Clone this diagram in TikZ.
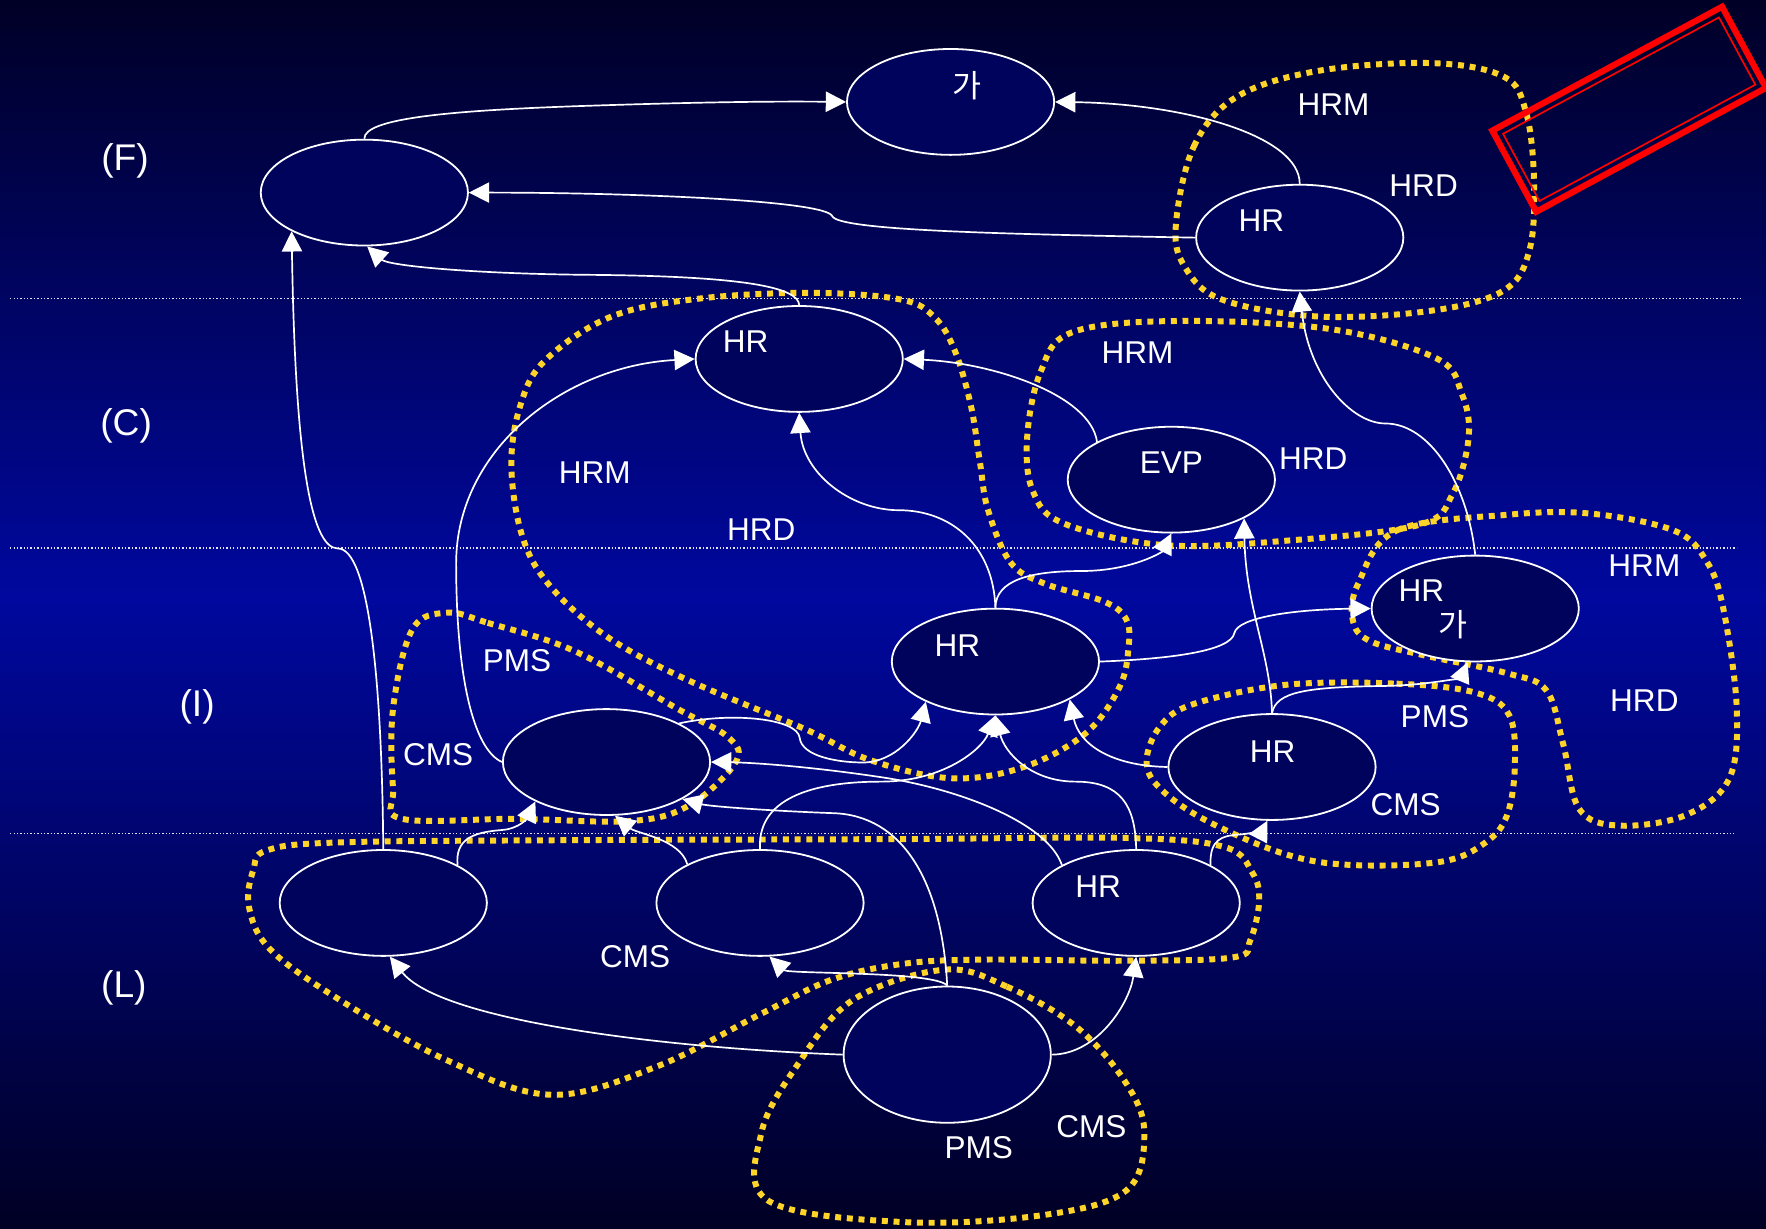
\documentclass[tikz,border=0pt]{standalone}
\usepackage{fontspec}
\setmainfont{Liberation Sans}
\newfontfamily\krfont{Noto Sans CJK KR}
\usetikzlibrary{shapes.geometric,arrows.meta}
\definecolor{bgtop}{RGB}{0,0,38}
\definecolor{bgmid}{RGB}{0,8,158}
\definecolor{bgbot}{RGB}{0,0,36}
\definecolor{nodefill}{RGB}{0,3,92}
\definecolor{gold}{RGB}{255,212,40}
\definecolor{sepcol}{RGB}{225,225,240}
\begin{document}
\begin{tikzpicture}[x=1pt,y=-1pt,
  bubble/.style={ellipse,draw=white,line width=1.6pt,fill=nodefill,minimum width=184pt,minimum height=94pt,inner sep=0pt},
  txt/.style={text=white,font=\fontsize{28}{32}\selectfont,inner sep=0pt},
  layertxt/.style={text=white,font=\fontsize{33}{36}\selectfont,inner sep=0pt},
  krtxt/.style={text=white,font=\krfont\fontsize{28}{32}\selectfont,inner sep=0pt},
  conn/.style={draw=white,line width=1.5pt,-{Triangle[length=18pt,width=18pt]}},
  zone/.style={draw=gold,line width=5.3pt,dash pattern=on 5.3pt off 5.1pt},
  sepline/.style={draw=sepcol,line width=1.2pt,dash pattern=on 1.2pt off 1.8pt},
  redframe/.style={draw=red,line join=miter}
]
\useasboundingbox (0,0) rectangle (1568,1091);
\shade[top color=bgtop,bottom color=bgmid] (0,0) rectangle (1568,530);
\shade[top color=bgmid,bottom color=bgbot] (0,529.5) rectangle (1568,1091);

% separators
\draw[sepline] (9,265) -- (1546,265);
\draw[sepline] (9,486.5) -- (1542,486.5);
\draw[sepline] (9,740) -- (1540,740);

% yellow zones
\draw[zone] plot[smooth cycle,tension=0.6] coordinates {(1044,200) (1060,130) (1098,86) (1170,63) (1270,56) (1335,68) (1355,100) (1362,160) (1358,222) (1335,258) (1270,276) (1170,281) (1085,266) (1052,237)};
\draw[zone] plot[smooth cycle,tension=0.6] coordinates {(912,388) (924,330) (952,295) (1044,285) (1180,292) (1275,318) (1298,350) (1304,388) (1290,438) (1260,466) (1143,480) (1034,484) (945,465) (917,436)};
\draw[zone] plot[smooth cycle,tension=0.6] coordinates {(877,452) (897,499) (927,518) (980,534) (1000,550) (1002,575) (994,610) (964,651) (909,681) (845,691) (773,675) (714,647) (611,604) (540,566) (489,521) (464,477) (454,414) (462,360) (484,320) (543,281) (622,265) (721,260) (800,266) (830,282) (848,312) (862,360) (870,410)};
\draw[zone] plot[smooth cycle,tension=0.6] coordinates {(1206,518) (1240,471) (1339,457) (1412,456) (1486,471) (1515,498) (1530,540) (1542,629) (1535,692) (1496,724) (1437,733) (1402,718) (1388,661) (1373,613) (1339,598) (1265,582) (1216,569) (1201,550)};
\draw[zone] plot[smooth cycle,tension=0.6] coordinates {(1142,608) (1240,607) (1310,615) (1340,635) (1345,680) (1338,724) (1319,748) (1280,765) (1200,768) (1140,758) (1070,728) (1030,700) (1018,676) (1030,645) (1060,625)};
\draw[zone] plot[smooth cycle,tension=0.6] coordinates {(397,544) (433,553) (510,578) (601,629) (647,655) (653,677) (612,715) (560,729) (459,727) (357,727) (349,700) (349,629) (366,559)};
\draw[zone] plot[smooth cycle,tension=0.6] coordinates {(237,755) (300,748) (500,746) (800,745) (1000,744) (1087,752) (1112,775) (1118,800) (1110,835) (1095,850) (1000,853) (870,852) (800,856) (738,870) (676,900) (583,947) (489,972) (396,941) (302,888) (240,843) (221,805) (225,772)};
\draw[zone] plot[smooth cycle,tension=0.6] coordinates {(838,861) (894,876) (956,912) (1000,962) (1016,1006) (1000,1057) (925,1079) (801,1085) (682,1066) (676,1006) (707,947) (757,888)};

% nodes
\node[bubble] (nA)   at (323.5,171) {};
\node[bubble] (nGa)  at (844,90.5) {};
\node[bubble] (nHRF) at (1154,211) {};
\node[bubble] (nHRC) at (709.6,318.7) {};
\node[bubble] (nEVP) at (1040,425.9) {};
\node[bubble] (nHRI) at (883.8,587.4) {};
\node[bubble] (nHRG) at (1309.8,540.3) {};
\node[bubble] (nLI)  at (538.5,676.6) {};
\node[bubble] (nHRLR) at (1129.4,681) {};
\node[bubble] (nL1)  at (340.3,801.7) {};
\node[bubble] (nL2)  at (674.8,801.7) {};
\node[bubble] (nL3)  at (1008.8,801.7) {};
\node[bubble,minimum height=121pt] (nL4) at (841,936.4) {};

% connectors
\draw[conn] (nA.north) .. controls (323,105) and (400,98) .. (520,94) .. controls (640,90) and (700,90) .. (nGa.west);
\draw[conn] (nHRF.north) .. controls (1154,120) and (1050,92) .. (nGa.east);
\draw[conn] (nHRF.west) .. controls (900,208) and (745,205) .. (739,192) .. controls (734,178) and (560,171) .. (nA.east);
\draw[conn] (nHRC.north) .. controls (709,255) and (660,245) .. (520,244) .. controls (420,243) and (345,236) .. (nA.-87);
\draw[conn] (nL1.north) .. controls (339,600) and (327,487) .. (300,487) .. controls (275,487) and (262,400) .. (nA.-152);
\draw[conn] (nLI.west) .. controls (420,665) and (405,600) .. (405,500) .. controls (405,400) and (500,325) .. (nHRC.west);
\draw[conn] (nHRI.north) .. controls (882,485) and (845,453) .. (798,453) .. controls (755,453) and (713,420) .. (nHRC.south);
\draw[conn] (nHRI.north) .. controls (884,515) and (915,507) .. (960,507) .. controls (1005,507) and (1032,490) .. (nEVP.south);
\draw[conn] (nEVP.153) .. controls (968,350) and (880,322) .. (nHRC.east);
\draw[conn] (nHRG.north) .. controls (1303,430) and (1270,376) .. (1230,376) .. controls (1200,376) and (1162,335) .. (nHRF.south);
\draw[conn] (nHRI.east) .. controls (1040,585) and (1093,578) .. (1096,562) .. controls (1099,548) and (1150,541) .. (nHRG.west);
\draw[conn] (nHRLR.north) .. controls (1128,580) and (1106,540) .. (nEVP.-28);
\draw[conn] (nHRLR.north) .. controls (1133,614) and (1160,610) .. (1231,609) .. controls (1275,608) and (1298,600) .. (nHRG.-98);
\draw[conn] (nHRLR.west) .. controls (985,680) and (958,660) .. (nHRI.-27);
\draw[conn] (nL3.north) .. controls (1008,715) and (995,694) .. (955,694) .. controls (915,694) and (892,668) .. (nHRI.south);
\draw[conn] (nL2.north) .. controls (672,705) and (730,694) .. (782,694) .. controls (838,694) and (872,665) .. (nHRI.south);
\draw[conn] (nLI.28) .. controls (650,632) and (708,638) .. (710,655) .. controls (712,672) and (745,677) .. (766,677) .. controls (795,677) and (815,650) .. (nHRI.-150);
\draw[conn] (nL3.153) .. controls (930,730) and (850,700) .. (782,690) .. controls (715,680) and (665,677) .. (nLI.east);
\draw[conn] (nL4.north) .. controls (836,780) and (800,724) .. (740,722) .. controls (685,720) and (630,716) .. (nLI.-26);
\draw[conn] (nL2.152) .. controls (604,745) and (565,740) .. (nLI.-81);
\draw[conn] (nL1.27) .. controls (404,745) and (420,739) .. (445,737) .. controls (462,736) and (469,725) .. (nLI.-151);
\draw[conn] (nL3.27) .. controls (1074,745) and (1085,742) .. (1100,741) .. controls (1115,740) and (1122,735) .. (nHRLR.-95);
\draw[conn] (nL4.west) .. controls (580,930) and (390,905) .. (nL1.-83);
\draw[conn] (nL4.north) .. controls (830,862) and (700,865) .. (nL2.-80);
\draw[conn] (nL4.east) .. controls (975,936) and (1003,890) .. (nL3.south);

% texts
\node[layertxt] (tF) at (111,143) {(F)};
\node[layertxt] (tC) at (112,378) {(C)};
\node[layertxt] (tI) at (175,628) {(I)};
\node[layertxt] (tL) at (110,877) {(L)};
\node[krtxt] (tGa) at (859,76) {가};
\node[txt] (tHRF) at (1120,196) {HR};
\node[txt] (tHRM1) at (1184,93) {HRM};
\node[txt] (tHRD1) at (1264,165) {HRD};
\node[txt] (tHRC) at (662,303) {HR};
\node[txt] (tHRM2) at (1010,313) {HRM};
\node[txt] (tEVP) at (1040,411) {EVP};
\node[txt] (tHRD2) at (1166,407) {HRD};
\node[txt] (tHRM3) at (528,420) {HRM};
\node[txt] (tHRD3) at (676,470) {HRD};
\node[txt] (tHRI) at (850,573) {HR};
\node[txt] (tHRG) at (1262,524) {HR};
\node[krtxt] (tGa2) at (1290,555) {가};
\node[txt] (tHRM4) at (1460,502) {HRM};
\node[txt] (tHRD4) at (1460,622) {HRD};
\node[txt] (tPMS1) at (459,587) {PMS};
\node[txt] (tCMS1) at (389,670) {CMS};
\node[txt] (tPMS2) at (1274,636) {PMS};
\node[txt] (tCMS2) at (1248,714) {CMS};
\node[txt] (tHRLR) at (1130,667) {HR};
\node[txt] (tHRL3) at (975,787) {HR};
\node[txt] (tCMS3) at (564,849) {CMS};
\node[txt] (tPMS3) at (869,1019) {PMS};
\node[txt] (tCMS4) at (969,1000) {CMS};

% red frame
\draw[redframe,line width=5.5pt] (1325,116) -- (1529,6) -- (1568,78) -- (1364,188) -- cycle;
\draw[redframe,line width=1.5pt] (1334.5,118.8) -- (1526.2,15.5) -- (1558.5,75.2) -- (1366.8,178.5) -- cycle;
\end{tikzpicture}
\end{document}
